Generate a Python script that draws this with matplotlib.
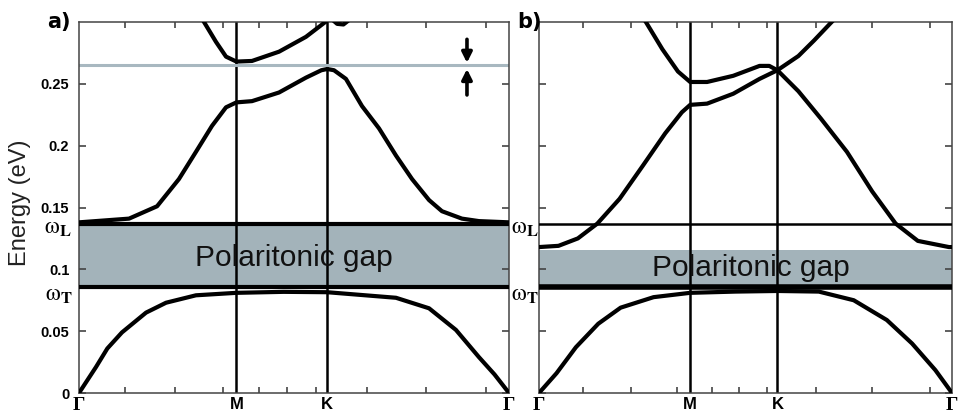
import matplotlib.pyplot as plt

plt.rcParams['mathtext.fontset'] = 'stix'

# high-symmetry points along the path (hexagonal BZ, Gamma-M = 1)
k_pos = [0.0, 1.0, 1.577, 2.732]
k_labels = ['Γ', 'M', 'K', 'Γ']
k_minor = [0.292, 0.610, 0.915, 1.144, 1.321, 1.505, 1.830, 2.205, 2.586]

w_T = 0.086
w_L = 0.137
gap_a = (0.087, 0.136)
gap_b = (0.087, 0.116)
split_E = 0.265

# panel a bands
a1_k = [0, 0.108, 0.180, 0.273, 0.426, 0.553, 0.743, 1.0, 1.3, 1.577, 2.014, 2.224, 2.395, 2.541, 2.640, 2.732]
a1_E = [0, 0.021, 0.036, 0.049, 0.065, 0.073, 0.079, 0.081, 0.0818, 0.0815, 0.077, 0.0685, 0.051, 0.029,
        0.015, 0]

a2_k = [0, 0.318, 0.496, 0.635, 0.743, 0.845, 0.934, 1.0, 1.099, 1.271, 1.442, 1.54, 1.577, 1.62,
        1.696, 1.798, 1.906, 2.014, 2.116, 2.224, 2.306, 2.433, 2.541, 2.732]
a2_E = [0.138, 0.141, 0.151, 0.173, 0.195, 0.216, 0.231, 0.235, 0.236, 0.243, 0.255, 0.261, 0.262, 0.261,
        0.254, 0.232, 0.214, 0.192, 0.173, 0.156, 0.147, 0.141, 0.139, 0.138]

a3_k = [0.78, 0.870, 0.934, 1.0, 1.099, 1.271, 1.442, 1.565, 1.60]
a3_E = [0.303, 0.284, 0.272, 0.268, 0.2685, 0.276, 0.288, 0.300, 0.303]

a4_k = [1.60, 1.64, 1.68, 1.72]
a4_E = [0.303, 0.2985, 0.298, 0.302]

# panel b bands
b1_k = [0, 0.116, 0.244, 0.392, 0.540, 0.758, 1.0, 1.3, 1.577, 1.851, 2.082, 2.301, 2.468, 2.622, 2.732]
b1_E = [0, 0.016, 0.037, 0.056, 0.069, 0.0775, 0.081, 0.082, 0.0825, 0.082, 0.075, 0.059, 0.040, 0.0185, 0]

b2_k = [0, 0.129, 0.257, 0.386, 0.533, 0.688, 0.835, 0.945, 1.0, 1.112, 1.285, 1.459, 1.577,
        1.716, 1.819, 1.928, 1.96]
b2_E = [0.118, 0.119, 0.125, 0.137, 0.157, 0.184, 0.210, 0.227, 0.233, 0.234, 0.242, 0.254, 0.261,
        0.2725, 0.285, 0.299, 0.303]

b3_k = [0.69, 0.707, 0.816, 0.919, 1.0, 1.112, 1.285, 1.459, 1.523, 1.577, 1.716, 1.864, 2.037,
        2.204, 2.359, 2.506, 2.712, 2.732]
b3_E = [0.303, 0.300, 0.278, 0.260, 0.2515, 0.2515, 0.2565, 0.2645, 0.2645, 0.261, 0.244, 0.222, 0.195,
        0.163, 0.137, 0.123, 0.118, 0.118]

fill_c = '#a3b3ba'
line_c = '#a8b8c0'
spine_c = '#444444'

fig = plt.figure(figsize=(9.61, 4.15), dpi=100)
ax_a = fig.add_axes([79 / 961, 22 / 415, 430 / 961, 371 / 415])
ax_b = fig.add_axes([539 / 961, 22 / 415, 413 / 961, 371 / 415])


def setup(ax):
    ax.set_xlim(0, k_pos[-1])
    ax.set_ylim(0, 0.3)
    ax.set_xticks(k_pos)
    ax.set_xticklabels(k_labels, fontsize=12, fontweight='bold', family='Liberation Sans')
    for lab in ax.get_xticklabels():
        if lab.get_text() == 'Γ':
            lab.set_family('Liberation Serif')
            lab.set_fontsize(14)
    ax.set_xticks(k_minor, minor=True)
    ax.set_yticks([0, 0.05, 0.1, 0.15, 0.2, 0.25])
    ax.tick_params(axis='x', which='major', length=0, pad=3)
    ax.tick_params(which='both', direction='in', top=True, right=True,
                   color=spine_c, width=1.2)
    ax.tick_params(which='minor', length=4)
    ax.tick_params(axis='y', length=5, pad=7)
    for s in ax.spines.values():
        s.set_color(spine_c)
        s.set_linewidth(1.1)
    for k in k_pos[1:3]:
        ax.axvline(k, color='k', lw=1.8, zorder=2)


setup(ax_a)
setup(ax_b)

# a) longitudinal/transverse optical phonon gap
ax_a.axhspan(gap_a[0], gap_a[1], color=fill_c, lw=0, zorder=1)
ax_a.axhline(w_L, color='k', lw=3, zorder=3)
ax_a.axhline(w_T, color='k', lw=3, zorder=3)
ax_a.axhline(split_E, color=line_c, lw=2.2, zorder=2)
for kk, ee in [(a1_k, a1_E), (a2_k, a2_E), (a3_k, a3_E), (a4_k, a4_E)]:
    ax_a.plot(kk, ee, color='k', lw=3, solid_joinstyle='round', solid_capstyle='round', zorder=4)
ax_a.text(1.363, 0.103, 'Polaritonic gap', fontsize=21.5, family='Liberation Sans',
          ha='center', va='baseline', color='#111111', zorder=5)
ax_a.annotate('', xy=(2.465, 0.267), xytext=(2.465, 0.286),
              arrowprops=dict(arrowstyle='-|>', lw=2.6, color='k', mutation_scale=15,
                              shrinkA=0, shrinkB=0))
ax_a.annotate('', xy=(2.465, 0.262), xytext=(2.465, 0.241),
              arrowprops=dict(arrowstyle='-|>', lw=2.6, color='k', mutation_scale=15,
                              shrinkA=0, shrinkB=0))
ax_a.set_yticklabels(['0', '0.05', '0.1', '0.15', '0.2', '0.25'],
                     fontsize=10.5, fontweight='bold', family='Liberation Sans')

# b) same structure, narrower gap
ax_b.axhspan(gap_b[0], gap_b[1], color=fill_c, lw=0, zorder=1)
ax_b.axhline(w_L, color='k', lw=1.8, zorder=3)
ax_b.axhline(w_T, color='k', lw=4, zorder=3)
for kk, ee in [(b1_k, b1_E), (b2_k, b2_E), (b3_k, b3_E)]:
    ax_b.plot(kk, ee, color='k', lw=3, solid_joinstyle='round', solid_capstyle='round', zorder=4)
ax_b.text(1.40, 0.095, 'Polaritonic gap', fontsize=21.5, family='Liberation Sans',
          ha='center', va='baseline', color='#111111', zorder=5)
ax_b.set_yticklabels([])

# omega_L / omega_T labels at the left of each panel
for ax, dx in [(ax_a, -0.016), (ax_b, -0.002)]:
    tr = ax.get_yaxis_transform()
    ax.text(dx, w_L - 0.003, r'$\mathrm{\omega}_{\mathsf{\mathbf{L}}}$', transform=tr, fontsize=17,
            ha='right', va='center')
    ax.text(dx, w_T - 0.006, r'$\mathrm{\omega}_{\mathsf{\mathbf{T}}}$', transform=tr, fontsize=17,
            ha='right', va='center')

fig.text(20 / 961, 1 - 203 / 415, 'Energy (eV)', rotation=90, fontsize=17,
         family='Liberation Sans', color='#222222', ha='center', va='center')
fig.text(47 / 961, 1 - 22 / 415, 'a)', fontsize=15, fontweight='bold', va='center')
fig.text(517 / 961, 1 - 22 / 415, 'b)', fontsize=15, fontweight='bold', va='center')

fig.savefig('out.png', dpi=100)
